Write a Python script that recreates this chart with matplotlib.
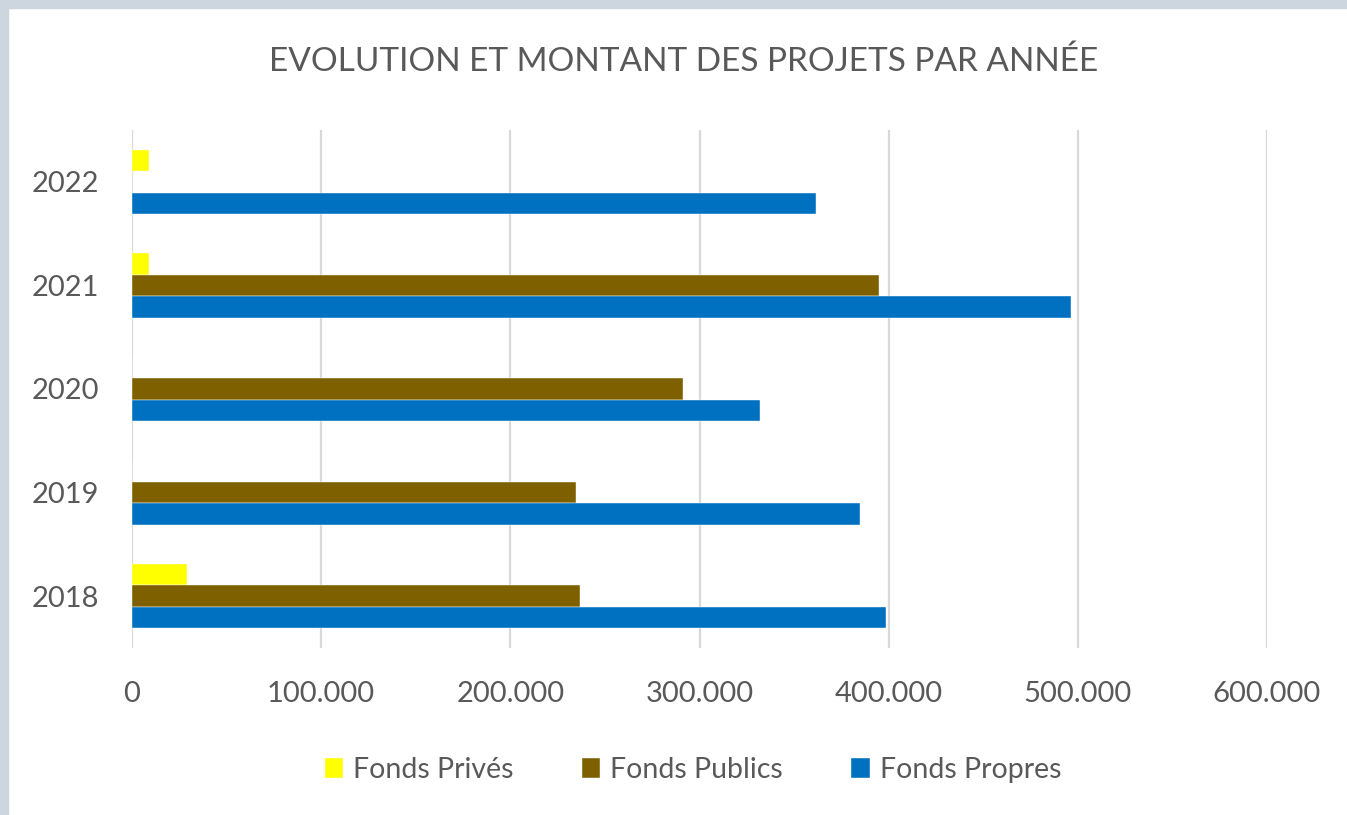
import numpy as np
import matplotlib.pyplot as plt
from matplotlib.patches import Rectangle

annees = ["2018", "2019", "2020", "2021", "2022"]
fonds_prives = [29000, 0, 0, 9000, 9000]
fonds_publics = [237000, 234500, 291500, 394700, 0]
fonds_propres = [398800, 385000, 332000, 496400, 361800]

series = [
    ("Fonds Privés", fonds_prives, "#FFFF00"),
    ("Fonds Publics", fonds_publics, "#7F6000"),
    ("Fonds Propres", fonds_propres, "#0070C0"),
]

plt.rcParams['font.family'] = ['Lato', 'DejaVu Sans']
gris = "#595959"

fig = plt.figure(figsize=(13.47, 8.15), dpi=100, facecolor="white")
W, H = 1347, 815
ax = fig.add_axes([132 / W, 1 - 648 / H, (1267 - 132) / W, (648 - 130) / H])

# bordure grise en haut et a gauche
fig.patches.append(Rectangle((0, 1 - 8 / H), 1, 8 / H, transform=fig.transFigure,
                             color="#CDD6DF", zorder=0))
fig.patches.append(Rectangle((0, 0), 8 / W, 1, transform=fig.transFigure,
                             color="#CDD6DF", zorder=0))

y = np.arange(len(annees))
h = 0.2075
offsets = [h, 0, -h]
for (nom, vals, col), off in zip(series, offsets):
    ax.barh(y + off, vals, height=h, color=col, label=nom,
            edgecolor="white", linewidth=0.3, zorder=3)

ax.set_xlim(0, 600000)
ax.set_ylim(-0.5, 4.5)
ax.set_xticks(np.arange(0, 600001, 100000))
ax.set_xticklabels(["0" if v == 0 else f"{v:,}".replace(",", ".") for v in range(0, 600001, 100000)])
ax.set_yticks(y)
ax.set_yticklabels(annees)
ax.grid(axis="x", color="#D9D9D9", linewidth=1.6, zorder=0)
for s in ax.spines.values():
    s.set_visible(False)
ax.tick_params(axis="both", length=0, labelsize=21, labelcolor=gris)
ax.tick_params(axis="x", pad=24)
ax.tick_params(axis="y", pad=24)

fig.text(684 / W, 1 - 62 / H, "EVOLUTION ET MONTANT DES PROJETS PAR ANNÉE",
         ha="center", va="center", fontsize=24, color=gris)

leg = fig.legend(loc="center", bbox_to_anchor=(693 / W, 1 - 770 / H), ncol=3,
                 frameon=False, fontsize=20.5, labelcolor=gris,
                 handlelength=0.65, handleheight=0.7, handletextpad=0.35,
                 columnspacing=2.4)

fig.savefig("out.png", dpi=100, facecolor="white")
